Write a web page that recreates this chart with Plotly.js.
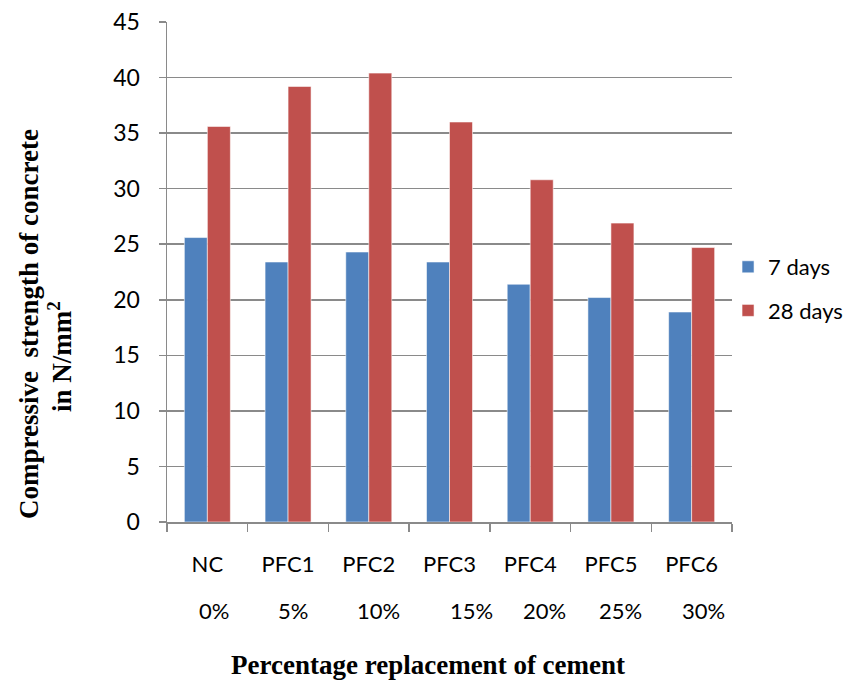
<!DOCTYPE html>
<html>
<head>
<meta charset="utf-8">
<script src="https://cdn.plot.ly/plotly-3.0.1.min.js"></script>
<style>
  html, body { margin: 0; padding: 0; background: #ffffff; }
  #chart { width: 846px; height: 684px; }
</style>
</head>
<body>
<div id="chart"></div>
<script>
// Mix designations and their cement replacement levels
const mixes = ["NC", "PFC1", "PFC2", "PFC3", "PFC4", "PFC5", "PFC6"];
const replacement = ["0%", "5%", "10%", "15%", "20%", "25%", "30%"];

// Compressive strength (N/mm²)
const strength7 = [25.6, 23.4, 24.3, 23.4, 21.4, 20.2, 18.9];
const strength28 = [35.6, 39.2, 40.4, 36.0, 30.8, 26.9, 24.7];

const seriesNames = ["7 days", "28 days"];
const yTicks = [0, 5, 10, 15, 20, 25, 30, 35, 40, 45];

const xLabelFont = { family: "Lato, 'Open Sans', sans-serif", size: 22, color: "#000000" };
const yLabelFont = { family: "Lato, 'Open Sans', sans-serif", size: 23, color: "#000000" };
const legendFont = { family: "Lato, 'Open Sans', sans-serif", size: 22, color: "#000000" };
const titleFont = { family: "'Liberation Serif', 'Times New Roman', serif", size: 27, color: "#000000" };

const traces = [
  {
    type: "bar",
    name: seriesNames[0],
    x: mixes,
    y: strength7,
    marker: { color: "#4F81BD", line: { color: "rgba(255,255,255,0.55)", width: 1 } },
    legendgroup: "a",
    hoverinfo: "x+y"
  },
  {
    type: "bar",
    name: seriesNames[1],
    x: mixes,
    y: strength28,
    marker: { color: "#C0504D", line: { color: "rgba(255,255,255,0.55)", width: 1 } },
    legendgroup: "b",
    hoverinfo: "x+y"
  }
];

// Percentage labels sit in a second row under the mix names
const pctShift = [7, 5, 10, 22, 14, 10, 12];
const annotations = replacement.map((t, i) => ({
  text: t,
  x: mixes[i],
  xref: "x",
  y: -0.176,
  yref: "paper",
  xanchor: "center",
  yanchor: "middle",
  xshift: pctShift[i],
  showarrow: false,
  font: xLabelFont
}));

annotations.push(
  {
    text: "<b>Percentage replacement of cement</b>",
    x: (428 - 167) / 565, xref: "paper", y: -0.286, yref: "paper",
    xanchor: "center", yanchor: "middle", showarrow: false,
    font: titleFont
  },
  {
    text: "<b>Compressive\u00a0 strength of concrete</b>",
    x: 0, xref: "paper", y: 0.396, yref: "paper",
    xanchor: "center", yanchor: "middle", xshift: -138, showarrow: false,
    textangle: -90,
    font: titleFont
  },
  {
    text: "<b>in N/mm<sup>2</sup></b>",
    x: 0, xref: "paper", y: 0.33, yref: "paper",
    xanchor: "center", yanchor: "middle", xshift: -107, showarrow: false,
    textangle: -90,
    font: titleFont
  }
);

const layout = {
  width: 846,
  height: 684,
  margin: { l: 167, r: 114, t: 22, b: 162, pad: 0, autoexpand: false },
  paper_bgcolor: "#ffffff",
  plot_bgcolor: "#ffffff",
  bargap: 0.43,
  bargroupgap: 0,
  barmode: "group",
  showlegend: true,
  legend: {
    x: 0.993, xanchor: "left", xref: "paper",
    y: 0.466, yanchor: "middle",
    font: legendFont,
    tracegroupgap: 12,
    itemwidth: 30,
    bgcolor: "rgba(0,0,0,0)"
  },
  xaxis: {
    type: "category",
    tickmode: "array",
    tickvals: mixes,
    ticktext: mixes,
    tickson: "boundaries",
    ticks: "outside",
    ticklen: 8,
    tickwidth: 1.5,
    tickcolor: "#8a8a8a",
    ticklabelstandoff: 22,
    showline: true,
    linecolor: "#8a8a8a",
    linewidth: 1.5,
    showgrid: false,
    zeroline: false,
    tickfont: xLabelFont,
    fixedrange: true
  },
  yaxis: {
    range: [0, 45],
    tickmode: "array",
    tickvals: yTicks,
    ticks: "outside",
    ticklen: 7,
    tickwidth: 1.5,
    tickcolor: "#8a8a8a",
    ticklabelstandoff: 14,
    showline: true,
    linecolor: "#8a8a8a",
    linewidth: 1.5,
    showgrid: true,
    gridcolor: "#8a8a8a",
    gridwidth: 1.5,
    zeroline: false,
    tickfont: yLabelFont,
    fixedrange: true
  },
  annotations: annotations
};

Plotly.newPlot("chart", traces, layout, { displayModeBar: false, staticPlot: true });
</script>
</body>
</html>
